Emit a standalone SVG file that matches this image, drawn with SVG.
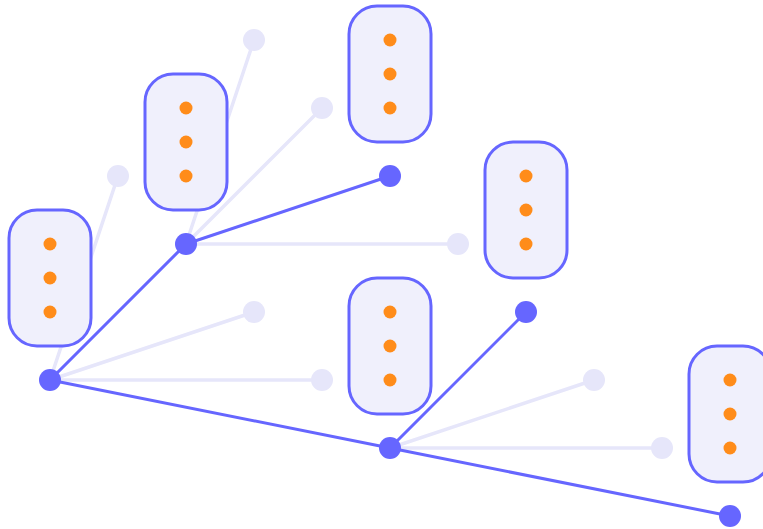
<svg xmlns="http://www.w3.org/2000/svg" width="763" height="529" viewBox="0 0 763 529">
  <style>
    .edge { stroke: #6666ff; stroke-width: 3; stroke-linecap: round; fill: none; }
    .faint { stroke: #e6e6fa; stroke-width: 3.5; stroke-linecap: round; fill: none; }
    .node { fill: #6666ff; }
    .leaf { fill: #e6e6fa; }
    .card { fill: #f0f0fc; stroke: #6666ff; stroke-width: 3; }
    .pip { fill: #ff8c1a; }
  </style>
  <defs>
    <g id="card">
      <rect class="card" x="-41" y="-68" width="82" height="136" rx="28" ry="28"/>
      <circle class="pip" cx="0" cy="-34" r="6.5"/>
      <circle class="pip" cx="0" cy="0" r="6.5"/>
      <circle class="pip" cx="0" cy="34" r="6.5"/>
    </g>
  </defs>

  <g id="connectors">
    <!-- faint branches -->
    <line class="faint" x1="50" y1="380" x2="118" y2="176"/>
    <line class="faint" x1="50" y1="380" x2="254" y2="312"/>
    <line class="faint" x1="50" y1="380" x2="322" y2="380"/>
    <line class="faint" x1="186" y1="244" x2="254" y2="40"/>
    <line class="faint" x1="186" y1="244" x2="322" y2="108"/>
    <line class="faint" x1="186" y1="244" x2="458" y2="244"/>
    <line class="faint" x1="390" y1="448" x2="594" y2="380"/>
    <line class="faint" x1="390" y1="448" x2="662" y2="448"/>
    <!-- main branches -->
    <line class="edge" x1="50" y1="380" x2="186" y2="244"/>
    <line class="edge" x1="186" y1="244" x2="390" y2="176"/>
    <line class="edge" x1="50" y1="380" x2="390" y2="448"/>
    <line class="edge" x1="390" y1="448" x2="526" y2="312"/>
    <line class="edge" x1="390" y1="448" x2="730" y2="516"/>
  </g>

  <g id="leaf-1"><circle class="leaf" cx="118" cy="176" r="11"/></g>
  <g id="leaf-2"><circle class="leaf" cx="254" cy="312" r="11"/></g>
  <g id="leaf-3"><circle class="leaf" cx="322" cy="380" r="11"/></g>
  <g id="leaf-4"><circle class="leaf" cx="254" cy="40" r="11"/></g>
  <g id="leaf-5"><circle class="leaf" cx="322" cy="108" r="11"/></g>
  <g id="leaf-6"><circle class="leaf" cx="458" cy="244" r="11"/></g>
  <g id="leaf-7"><circle class="leaf" cx="594" cy="380" r="11"/></g>
  <g id="leaf-8"><circle class="leaf" cx="662" cy="448" r="11"/></g>

  <g id="card-1"><use href="#card" x="50" y="278"/></g>
  <g id="card-2"><use href="#card" x="186" y="142"/></g>
  <g id="card-3"><use href="#card" x="390" y="74"/></g>
  <g id="card-4"><use href="#card" x="526" y="210"/></g>
  <g id="card-5"><use href="#card" x="390" y="346"/></g>
  <g id="card-6"><use href="#card" x="730" y="414"/></g>

  <g id="node-root"><circle class="node" cx="50" cy="380" r="11"/></g>
  <g id="node-a"><circle class="node" cx="186" cy="244" r="11"/></g>
  <g id="node-b"><circle class="node" cx="390" cy="176" r="11"/></g>
  <g id="node-c"><circle class="node" cx="390" cy="448" r="11"/></g>
  <g id="node-d"><circle class="node" cx="526" cy="312" r="11"/></g>
  <g id="node-e"><circle class="node" cx="730" cy="516" r="11"/></g>
</svg>
